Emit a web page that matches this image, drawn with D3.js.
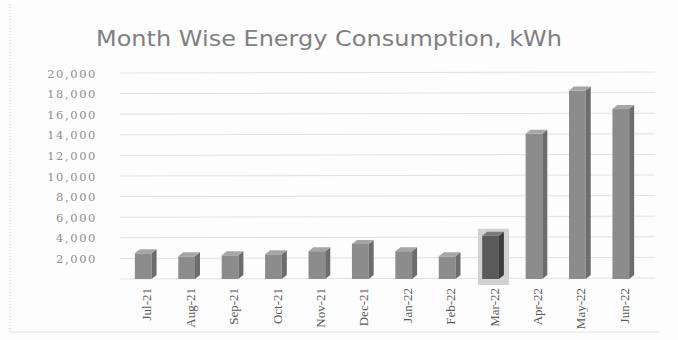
<!DOCTYPE html>
<html><head><meta charset="utf-8">
<script src="https://cdn.jsdelivr.net/npm/d3@7"></script>
<style>html,body{margin:0;padding:0;background:#fdfdfd;}svg{display:block;}</style>
</head><body>
<svg id="c" width="678" height="340"></svg>
<script>
const titleText = "Month Wise Energy Consumption, kWh";
const months = ["Jul-21","Aug-21","Sep-21","Oct-21","Nov-21","Dec-21","Jan-22","Feb-22","Mar-22","Apr-22","May-22","Jun-22"];
const consumption = [2500, 2200, 2300, 2400, 2700, 3400, 2700, 2200, 4200, 14100, 18300, 16500];
const yTicks = [2000, 4000, 6000, 8000, 10000, 12000, 14000, 16000, 18000, 20000];
const highlighted = ["Mar-22"];

const svg = d3.select("#c");

// faint border of the scanned page
svg.append("line").attr("x1",10).attr("x2",10).attr("y1",4).attr("y2",332)
  .attr("stroke","#c8c8c8").attr("stroke-dasharray","1,2");
svg.append("line").attr("x1",10).attr("x2",660).attr("y1",332).attr("y2",332)
  .attr("stroke","#e2e2e2");

const x = d3.scaleBand().domain(months).range([124, 645]).paddingInner(0.5).paddingOuter(0.25);
const y = d3.scaleLinear().domain([0, 20000]).range([279, 73]);

// gridlines
svg.append("g").selectAll("line").data([0].concat(yTicks)).join("line")
  .attr("x1", 120).attr("x2", 655)
  .attr("y1", d => y(d)).attr("y2", d => y(d) - 1)
  .attr("stroke", "#e0e0e0").attr("stroke-width", 1);

// y axis labels
const yAxis = d3.axisLeft(y).tickValues(yTicks).tickFormat(d3.format(",")).tickSize(0).tickPadding(0);
const gy = svg.append("g").attr("transform","translate(97,0)").call(yAxis);
gy.select(".domain").remove();
gy.selectAll("text").attr("font-family","'DejaVu Serif', serif").attr("font-size",11.5)
  .attr("letter-spacing","1.6px").attr("fill","#8e8e8e").attr("dy","0.35em");

// highlight box behind Mar-22
svg.append("g").selectAll("rect").data(highlighted).join("rect")
  .attr("x", d => x(d) + x.bandwidth()/2 - 15)
  .attr("y", d => y(consumption[months.indexOf(d)]) - 7)
  .attr("width", 31)
  .attr("height", d => 285 - y(consumption[months.indexOf(d)]) + 7)
  .attr("fill", "#d2d2d2");

// 3D bars
const dx = 5, dy = 4;
const data = months.map((m,i) => ({m, v: consumption[i], hi: highlighted.includes(m)}));
const fw = x.bandwidth() - dx;
const bars = svg.append("g").selectAll("g").data(data).join("g");
bars.append("rect")
  .attr("x", d => x(d.m)).attr("y", d => y(d.v))
  .attr("width", fw).attr("height", d => y(0) - y(d.v))
  .attr("fill", d => d.hi ? "#5a5a5a" : "#8c8c8c");
bars.append("path")
  .attr("d", d => {
    const x0 = x(d.m) + fw, yt = y(d.v), yb = y(0);
    return `M${x0},${yt} L${x0+dx},${yt-dy} L${x0+dx},${yb-dy} L${x0},${yb} Z`;
  })
  .attr("fill", d => d.hi ? "#3c3c3c" : "#6c6c6c");
bars.append("path")
  .attr("d", d => {
    const x0 = x(d.m), yt = y(d.v);
    return `M${x0},${yt} L${x0+dx},${yt-dy} L${x0+fw+dx},${yt-dy} L${x0+fw},${yt} Z`;
  })
  .attr("fill", d => d.hi ? "#7a7a7a" : "#a6a6a6");

// x axis labels (rotated, reading bottom to top)
const xAxis = d3.axisBottom(x).tickSize(0).tickPadding(0);
const gx = svg.append("g").attr("transform", "translate(0,288)").call(xAxis);
gx.select(".domain").remove();
gx.selectAll("text")
  .attr("font-family","'Liberation Serif', serif").attr("font-size",13)
  .attr("fill","#5a5a5a")
  .attr("text-anchor","end")
  .attr("x", 0).attr("y", 0).attr("dx", 0).attr("dy","0.35em")
  .attr("transform","translate(1,0) rotate(-90)");

// title
svg.append("text").attr("x", 329).attr("y", 46).attr("text-anchor","middle")
  .attr("font-family","'DejaVu Sans', Verdana, sans-serif").attr("font-size",21)
  .attr("fill","#808080").attr("textLength", 466).attr("lengthAdjust","spacingAndGlyphs")
  .text(titleText);
</script>
</body></html>
